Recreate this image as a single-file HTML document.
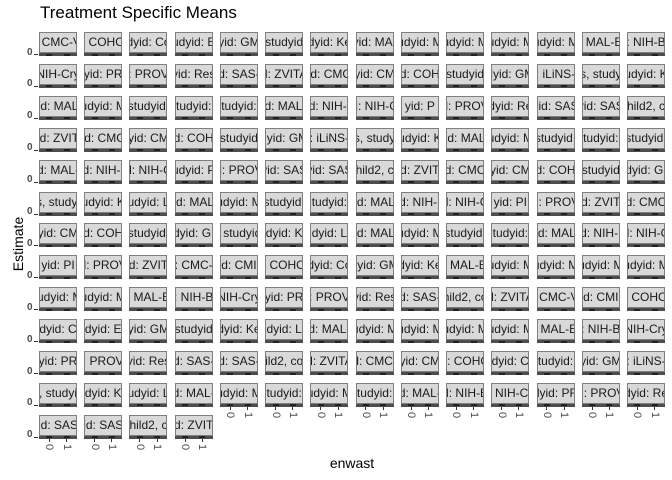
<!DOCTYPE html>
<html><head><meta charset="utf-8">
<style>
body{margin:0;background:#fff;}
#root{position:relative;width:672px;height:480px;overflow:hidden;font-family:"Liberation Sans",sans-serif;background:#fff;}
.title{position:absolute;left:40px;top:3px;font-size:17px;color:#000;white-space:nowrap;}
.ylab{position:absolute;left:-12px;top:236px;font-size:14px;transform:rotate(-90deg);transform-origin:center;width:60px;text-align:center;}
.xlab{position:absolute;left:322px;top:455px;font-size:14px;width:60px;text-align:center;}
.strip{position:absolute;width:36px;height:19px;background:#d9d9d9;border:1px solid #7f7f7f;overflow:hidden;}
.strip span{position:absolute;left:50%;top:2px;transform:translateX(-50%);white-space:nowrap;font-size:12px;color:#1a1a1a;}
.panel{position:absolute;width:38px;height:3px;background:#4d4d4d;}
.mark{position:absolute;background:#222;}
.tk{position:absolute;background:#333;}
.tl{position:absolute;font-size:11px;color:#4d4d4d;transform:rotate(90deg);transform-origin:left top;}
.yt{position:absolute;font-size:10px;font-weight:bold;color:#4d4d4d;}
</style></head>
<body>
<div id="root">
<div class="title">Treatment Specific Means</div>
<div class="ylab">Estimate</div>
<div class="xlab">enwast</div>
</div>
<script>
const stripLabels = [
": CMC-V",": COHO","dyid: Co","udyid: E","yid: GM","studyid","dyid: Ke","dyid: MAL-","udyid: M","udyid: M","udyid: M","udyid: M",": MAL-E",": NIH-B",
"NIH-Cry","yid: PR",": PROV","yid: Res","d: SAS-","d: ZVITA","id: CMC","yid: CM","d: COH","studyid","dyid: GM",": iLiNS-","s, study","udyid: K",
"id: MAL","udyid: M","studyid:","tudyid:","tudyid:","id: MAL-","d: NIH-I","d: NIH-C","yid: P","d: PROV","dyid: Re","yid: SAS","yid: SAS","hild2, c",
"id: ZVIT","id: CMC","yid: CM","d: COH","studyid","dyid: GM",": iLiNS-","s, study","udyid: K","id: MAL","udyid: M","studyid:","tudyid:","studyid:",
"d: MAL-","d: NIH-I","d: NIH-C","udyid: P","d: PROV","yid: SAS","yid: SAS","hild2, c","d: ZVIT","d: CMC","yid: CM","d: COH","studyid","dyid: GI",
"s, studyi","udyid: K","udyid: L","id: MAL","udyid: M","studyid:","tudyid:","id: MAL","d: NIH-I","d: NIH-C","yid: PI","d: PROV","d: ZVIT","d: CMC",
"yid: CM","d: COH","studyid:","dyid: GI",", studyid","dyid: K","dyid: L","id: MAL","udyid: M","studyid:","tudyid:","id: MAL","d: NIH-I","d: NIH-C",
"yid: PI","d: PROV","d: ZVIT",": CMC-","d: CMI",": COHO","dyid: Co","dyid: GM","dyid: Ke",": MAL-E","udyid: M","udyid: M","udyid: M","udyid: M",
"tudyid: M","udyid: M",": MAL-E",": NIH-B","NIH-Cry","yid: PR",": PROV","yid: Res","d: SAS-","hild2, co","d: ZVITA",": CMC-V","d: CMI",": COHO",
"udyid: Co","dyid: E","yid: GM","studyid","dyid: Ke","dyid: L","d: MAL-","udyid: M","udyid: M","udyid: M","udyid: M",": MAL-E",": NIH-B","NIH-Cry",
"yid: PR",": PROV","yid: Res","d: SAS-","d: SAS-","ild2, co","d: ZVITA","d: CMC-","yid: CM","d: COHO","dyid: C","tudyid:","yid: GM",": iLiNS-",
", studyi","dyid: K","udyid: L","d: MAL-","udyid: M","tudyid:","udyid: M","tudyid:","d: MAL-","d: NIH-B",": NIH-Cr","dyid: PR","d: PROV","dyid: Re",
"id: SAS","id: SAS","hild2, c","d: ZVIT"
];
const xCategories = ["0","1"];
const estimate0 = stripLabels.map(()=>0);
const estimate1 = stripLabels.map(()=>0);
const yTicks = [0];

const root = document.getElementById('root');
const NCOL = 14, colX0 = 39, colPitch = 45.23, rowY0 = 32, rowPitch = 31.9, PW = 38, PH = 3, SH = 21;
const n = stripLabels.length;
function xScale(i){ return (i + 1 - 0.4) / 2.2 * PW; }
function yScale(v){ return PH/2 - v * 0.5; }

for (let i = 0; i < n; i++) {
  const r = Math.floor(i / NCOL), c = i % NCOL;
  const x = colX0 + c * colPitch, y = rowY0 + r * rowPitch;
  const s = document.createElement('div');
  s.className = 'strip';
  s.style.left = x + 'px'; s.style.top = y + 'px';
  
  
  const sp = document.createElement('span'); sp.textContent = stripLabels[i]; s.appendChild(sp);
  root.appendChild(s);
  const py = y + SH;
  const p = document.createElement('div');
  p.className = 'panel';
  p.style.left = x + 'px'; p.style.top = py + 'px';
  
  
  root.appendChild(p);
  [estimate0[i], estimate1[i]].forEach((v, k) => {
    const m = document.createElement('div');
    m.className = 'mark';
    m.style.left = (x + xScale(k) - 3) + 'px';
    m.style.top = (py + yScale(v) - 1) + 'px';
    m.style.width = '6px'; m.style.height = '2px';
    
    
    root.appendChild(m);
  });
  if (c === 0) {
    yTicks.forEach(t => {
      const tk = document.createElement('div');
      tk.className = 'tk';
      tk.style.left = (x - 5) + 'px'; tk.style.top = (py + yScale(t) - 0.5) + 'px';
      tk.style.width = '4px'; tk.style.height = '1px';
      
      
      root.appendChild(tk);
      const tl = document.createElement('div');
      tl.className = 'yt';
      tl.textContent = t;
      tl.style.left = (x - 12) + 'px'; tl.style.top = (py + yScale(t) - 8) + 'px';
      
      
      root.appendChild(tl);
    });
  }
  if (i + NCOL >= n) {
    xCategories.forEach((cat, k) => {
      const tk = document.createElement('div');
      tk.className = 'tk';
      tk.style.left = (x + xScale(k) - 0.5) + 'px'; tk.style.top = (py + PH) + 'px';
      tk.style.width = '1px'; tk.style.height = '3px';
      
      
      root.appendChild(tk);
      const tl = document.createElement('div');
      tl.className = 'tl';
      tl.textContent = cat;
      tl.style.left = (x + xScale(k) + 6) + 'px'; tl.style.top = (py + PH + 5) + 'px';
      
      
      root.appendChild(tl);
    });
  }
}
</script>
</body></html>
